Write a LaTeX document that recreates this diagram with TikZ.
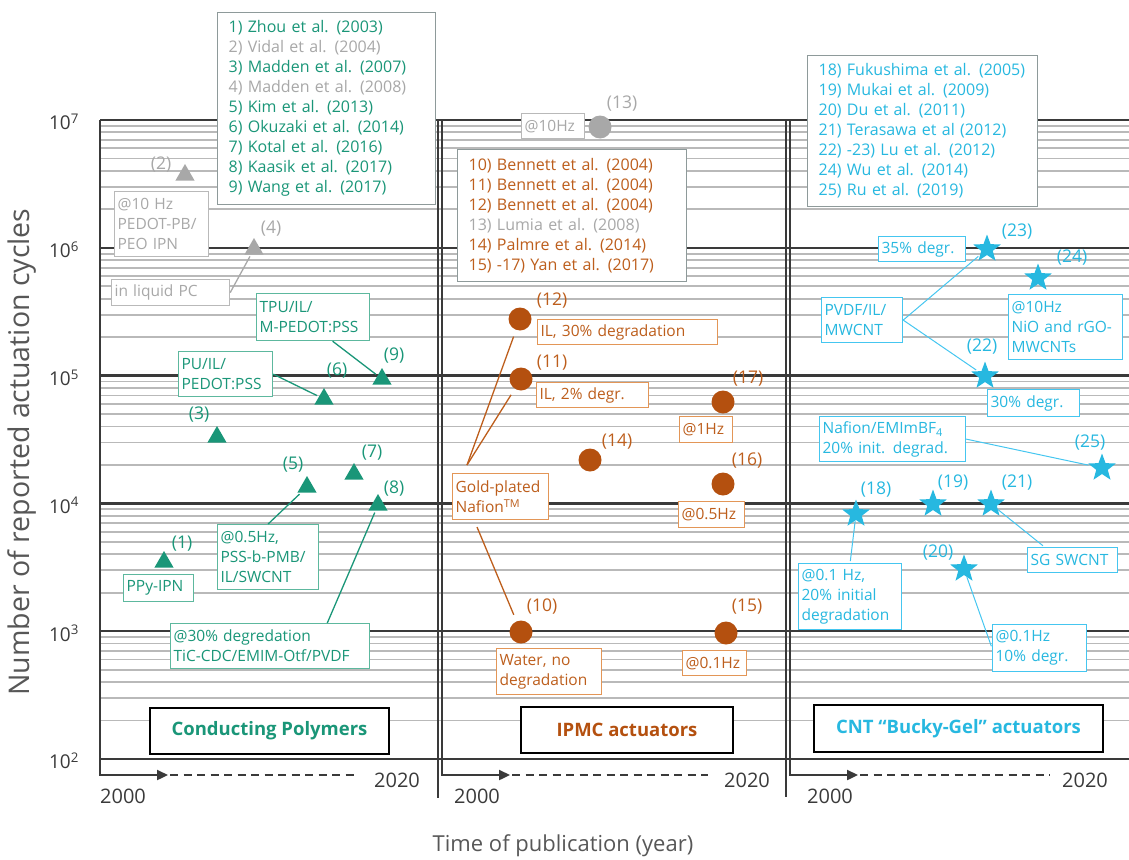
\documentclass[tikz,border=0pt]{standalone}
\usepackage{fontspec}
\setmainfont{Open Sans}
\usepackage{tikz}
\usetikzlibrary{arrows.meta,shapes.geometric,positioning}
\definecolor{cpgreen}{HTML}{1A9678}
\definecolor{cpframe}{HTML}{5DB89E}
\definecolor{ipmcorange}{HTML}{B4500F}
\definecolor{ipmctext}{HTML}{BD5E1C}
\definecolor{ipmcframe}{HTML}{E39657}
\definecolor{cntblue}{HTML}{27B8E0}
\definecolor{cntframe}{HTML}{45C6F0}
\definecolor{oldgray}{HTML}{A8A8A8}
\definecolor{legframe}{HTML}{8E9A9A}
\definecolor{gridgray}{HTML}{B9B9B9}
\definecolor{axisdark}{HTML}{3A3A3A}
\tikzset{
    %Define standard arrow tip
    >={Triangle[length=11pt,width=10pt]},
    %Define style for grid and axes
    dekade/.style={draw=axisdark, line width=2.3pt},
    teil/.style={draw=gridgray, line width=1.8pt},
    achse/.style={draw=axisdark, line width=2.3pt},
    zeit/.style={draw=axisdark, line width=1.6pt, dash pattern=on 8pt off 5.5pt},
    jahr/.style={text=axisdark, font=\fontsize{20pt}{24pt}\selectfont, inner sep=0pt},
    exponent/.style={text=axisdark, font=\fontsize{19pt}{22pt}\selectfont, inner sep=0pt},
    titel/.style={text=axisdark!85, font=\fontsize{22pt}{26pt}\selectfont, inner sep=0pt},
    %Define style for data points
    dreieck/.style={regular polygon, regular polygon sides=3, fill=cpgreen,
           minimum size=22pt, inner sep=0pt},
    kreis/.style={circle, fill=ipmcorange, minimum size=23pt, inner sep=0pt},
    stern/.style={star, star points=5, star point ratio=2.4, fill=cntblue,
           minimum size=29pt, inner sep=0pt},
    nummer/.style={font=\fontsize{17.5pt}{19pt}\selectfont, inner sep=0pt},
    %Define style for boxes
    kasten/.style={
           rectangle,
           fill=white,
           line width=1.2pt,
           anchor=north west,
           align=left,
           inner xsep=3pt,
           inner ysep=0pt,
           font=\fontsize{15.5pt}{20pt}\selectfont},
    gkasten/.style={kasten, draw=cpframe, text=cpgreen},
    okasten/.style={kasten, draw=ipmcframe, text=ipmctext},
    ckasten/.style={kasten, draw=cntframe, text=cntblue},
    graukasten/.style={kasten, draw=oldgray!80, text=oldgray},
    legende/.style={kasten, draw=legframe, inner xsep=11pt,
           font=\fontsize{16pt}{20pt}\selectfont},
    gruppe/.style={
           rectangle,
           fill=white,
           draw=black, line width=2pt,
           anchor=north west,
           font=\bfseries\fontsize{18.5pt}{20pt}\selectfont},
    % Define connector style
    pil/.style={line width=1.3pt, shorten >=2pt}
}
\begin{document}
\begin{tikzpicture}[x=1pt, y=-1pt]
\useasboundingbox (0,0) rectangle (1129,859);
 %grid
\foreach \d in {0,...,4}{
  \foreach \m in {2,...,9}{
    \pgfmathsetmacro{\yy}{759-127.8*(\d+ln(\m)/ln(10))}
    \draw[teil] (100,\yy) -- (1129,\yy);
  }
}
\foreach \d in {0,...,5}{
  \pgfmathsetmacro{\yy}{759-127.8*\d}
  \draw[dekade] (100,\yy) -- (1129,\yy);
}
\foreach \d in {2,...,7}{
  \pgfmathsetmacro{\yy}{761-127.8*(\d-2)}
  \node[exponent] (e\d) at (64,\yy) {10\textsuperscript{\d}};
}
 %axes
\foreach \xa/\xe/\xs/\xz in {100/358/123/397, 442/708/477/747, 790/1050/830/1085}{
  \draw[achse, ->] (\xa,120) -- (\xa,775) -- (\xa+68,775);
  \draw[zeit] (\xa+70,775) -- (\xe,775);
  \node[jahr] (von\xa) at (\xs,796) {2000};
  \node[jahr] (bis\xa) at (\xz,780) {2020};
}
\draw[achse] (438,120) -- (438,798);
\draw[achse] (786,120) -- (786,797);
\node[titel] (xlab) at (563,846) {Time of publication (year)};
\node[titel, rotate=90, font=\fontsize{28.5pt}{30pt}\selectfont] (ylab) at (22,452) {Number of reported actuation cycles};

 %legends
\node[legende, text=cpgreen, text width=196pt, minimum height=192pt] (leg1) at (217,12)
  {1) Zhou et al. (2003)\\ \textcolor{oldgray}{2) Vidal et al. (2004)}\\ 3) Madden et al. (2007)\\
   \textcolor{oldgray}{4) Madden et al. (2008)}\\ 5) Kim et al. (2013)\\ 6) Okuzaki et al. (2014)\\
   7) Kotal et al. (2016)\\ 8) Kaasik et al. (2017)\\ 9) Wang et al. (2017)};
\node[legende, text=ipmctext, text width=207pt, minimum height=132pt] (leg2) at (457,149)
  {10) Bennett et al. (2004)\\ 11) Bennett et al. (2004)\\ 12) Bennett et al. (2004)\\
   \textcolor{oldgray}{13) Lumia et al. (2008)}\\ 14) Palmre et al. (2014)\\ 15) -17) Yan et al. (2017)};
\node[legende, text=cntblue, text width=208pt, minimum height=151pt] (leg3) at (807,55)
  {18) Fukushima et al. (2005)\\ 19) Mukai et al. (2009)\\ 20) Du et al. (2011)\\
   21) Terasawa et al (2012)\\ 22) -23) Lu et al. (2012)\\ 24) Wu et al. (2014)\\ 25) Ru et al. (2019)};

 %conducting polymers
\node[dreieck] (p1) at (164,562) {};
\node[dreieck, fill=oldgray] (p2) at (185,175) {};
\node[dreieck] (p3) at (217,437) {};
\node[dreieck, fill=oldgray] (p4) at (254,249) {};
\node[dreieck] (p5) at (307,487) {};
\node[dreieck] (p6) at (324,399) {};
\node[dreieck] (p7) at (354,474) {};
\node[dreieck] (p8) at (378,505) {};
\node[dreieck] (p9) at (382,379) {};
\node[nummer, text=cpgreen] (n1) at (182,544) {(1)};
\node[nummer, text=oldgray] (n2) at (161,165) {(2)};
\node[nummer, text=cpgreen] (n3) at (199,415) {(3)};
\node[nummer, text=oldgray] (n4) at (271,229) {(4)};
\node[nummer, text=cpgreen] (n5) at (293,465) {(5)};
\node[nummer, text=cpgreen] (n6) at (337,371) {(6)};
\node[nummer, text=cpgreen] (n7) at (372,453) {(7)};
\node[nummer, text=cpgreen] (n8) at (394,489) {(8)};
\node[nummer, text=cpgreen] (n9) at (394,356) {(9)};
\node[graukasten, text width=88pt, minimum height=65pt] (pedot) at (114,191) {@10 Hz\\PEDOT-PB/\\PEO IPN};
\node[graukasten, text width=112pt, minimum height=26pt] (liquid) at (111,279) {in liquid PC};
\node[gkasten, text width=107pt, minimum height=47pt] (tpu) at (256,293) {TPU/IL/\\M-PEDOT:PSS};
\node[gkasten, text width=88pt, minimum height=45pt] (pu) at (178,351) {PU/IL/\\PEDOT:PSS};
\node[gkasten, text width=64pt, minimum height=27pt] (ppy) at (123,574) {PPy-IPN};
\node[gkasten, text width=95pt, minimum height=65pt] (pss) at (217,524) {@0.5Hz,\\PSS-b-PMB/\\IL/SWCNT};
\node[gkasten, text width=193pt, minimum height=45pt] (tic) at (170,623) {@30\% degredation\\TiC-CDC/EMIM-Otf/PVDF};
\node[gruppe, text=cpgreen, minimum width=239pt, minimum height=46pt] (cp) at (149,707) {Conducting Polymers};

 %IPMC actuators
\node[kreis] (p10) at (521,632) {};
\node[kreis] (p11) at (521,379) {};
\node[kreis] (p12) at (520,319) {};
\node[kreis, fill=oldgray] (p13) at (600,127) {};
\node[kreis] (p14) at (590,460) {};
\node[kreis] (p15) at (726,633) {};
\node[kreis] (p16) at (723,484) {};
\node[kreis] (p17) at (723,402) {};
\node[nummer, text=ipmctext] (n10) at (542,607) {(10)};
\node[nummer, text=ipmctext] (n11) at (552,363) {(11)};
\node[nummer, text=ipmctext] (n12) at (552,301) {(12)};
\node[nummer, text=oldgray] (n13) at (622,104) {(13)};
\node[nummer, text=ipmctext] (n14) at (617,442) {(14)};
\node[nummer, text=ipmctext] (n15) at (747,607) {(15)};
\node[nummer, text=ipmctext] (n16) at (747,461) {(16)};
\node[nummer, text=ipmctext] (n17) at (748,379) {(17)};
\node[graukasten, text width=57pt, minimum height=25pt] (hz13) at (521,113) {@10Hz};
\node[okasten, text width=174pt, minimum height=25pt] (il30) at (537,319) {IL, 30\% degradation};
\node[okasten, text width=106pt, minimum height=25pt] (il2) at (536,382) {IL, 2\% degr.};
\node[okasten, text width=47pt, minimum height=26pt] (hz17) at (679,416) {@1Hz};
\node[okasten, text width=60pt, minimum height=26pt] (hz16) at (678,501) {@0.5Hz};
\node[okasten, text width=90pt, minimum height=46pt] (gold) at (452,473) {Gold-plated\\Nafion\textsuperscript{TM}};
\node[okasten, text width=99pt, minimum height=46pt] (water) at (496,648) {Water, no\\degradation};
\node[okasten, text width=58pt, minimum height=25pt] (hz15) at (682,650) {@0.1Hz};
\node[gruppe, text=ipmcorange, minimum width=212pt, minimum height=46pt] (ipmc) at (520,706) {IPMC actuators};
\coordinate (goldtop) at (467,465);
\coordinate (goldfoot) at (477,527);

 %bucky gel actuators
\node[stern] (p18) at (856,514) {};
\node[stern] (p19) at (933,504) {};
\node[stern] (p20) at (964,569) {};
\node[stern] (p21) at (991,504) {};
\node[stern] (p22) at (985,376) {};
\node[stern] (p23) at (987,249) {};
\node[stern] (p24) at (1038,278) {};
\node[stern] (p25) at (1102,468) {};
\node[nummer, text=cntblue] (n18) at (876,490) {(18)};
\node[nummer, text=cntblue] (n19) at (953,483) {(19)};
\node[nummer, text=cntblue] (n20) at (938,553) {(20)};
\node[nummer, text=cntblue] (n21) at (1017,483) {(21)};
\node[nummer, text=cntblue] (n22) at (982,347) {(22)};
\node[nummer, text=cntblue] (n23) at (1017,232) {(23)};
\node[nummer, text=cntblue] (n24) at (1072,258) {(24)};
\node[nummer, text=cntblue] (n25) at (1090,443) {(25)};
\node[ckasten, text width=81pt, minimum height=25pt] (d35) at (878,236) {35\% degr.};
\node[ckasten, text width=108pt, minimum height=65pt] (nio) at (1008,294) {@10Hz\\NiO and rGO-\\MWCNTs};
\node[ckasten, text width=75pt, minimum height=45pt] (pvdf) at (821,297) {PVDF/IL/\\MWCNT};
\node[ckasten, text width=86pt, minimum height=27pt] (d30) at (987,389) {30\% degr.};
\node[ckasten, text width=140pt, minimum height=45pt] (nafion) at (819,416) {Nafion/EMImBF\textsubscript{4}\\20\% init. degrad.};
\node[ckasten, text width=84pt, minimum height=25pt] (sg) at (1027,547) {SG SWCNT};
\node[ckasten, text width=88pt, minimum height=47pt] (d10) at (992,624) {@0.1Hz\\10\% degr.};
\node[ckasten, text width=97pt, minimum height=66pt] (d20) at (798,563) {@0.1 Hz,\\20\% initial\\degradation};
\node[gruppe, text=cntblue, minimum width=289pt, minimum height=47pt] (cnt) at (813,704) {CNT “Bucky-Gel” actuators};

 %connectors
\path[pil, draw=oldgray]
    (liquid.east) edge (p4);
\path[pil, draw=cpgreen]
    (tpu.-51) edge (p9)
    (pu.east) edge (p6)
    (pss.north) edge (p5)
    (tic.22) edge (p8);
\path[pil, draw=ipmctext, shorten >=7pt]
    (goldtop) edge (p12)
              edge (p11)
    (goldfoot) edge (p10);
\path[pil, draw=cntframe, line width=1pt]
    (pvdf.east) edge (p23)
                edge (p22)
    (nafion.east) edge (p25)
    (p21) edge (sg.155)
    (p20) edge (d10.west)
    (p18) edge (d20.north);
\end{tikzpicture}
\end{document}
